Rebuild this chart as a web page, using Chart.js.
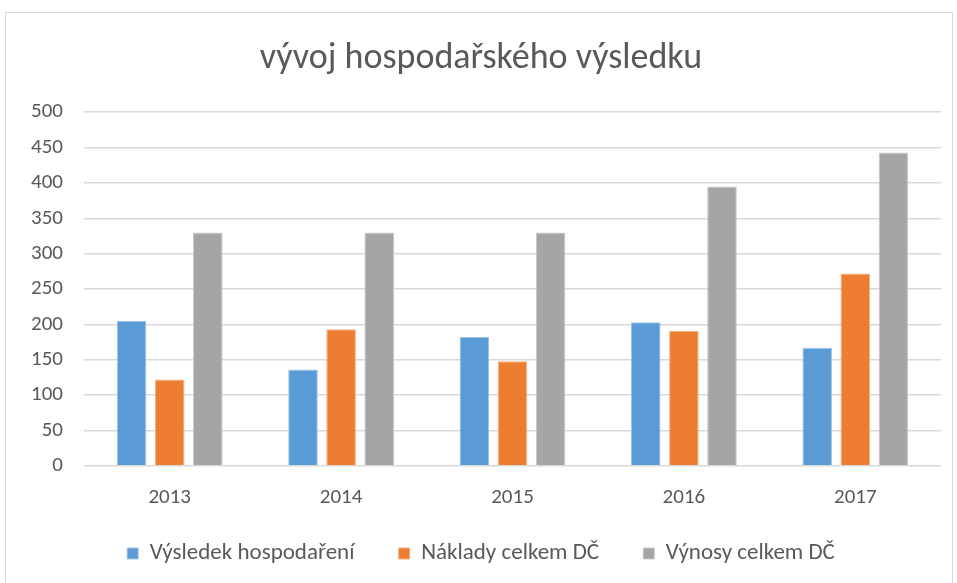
<!DOCTYPE html>
<html>
<head>
<meta charset="utf-8">
<script src="https://cdn.jsdelivr.net/npm/chart.js@4/dist/chart.umd.min.js"></script>
<style>
  html, body { margin: 0; padding: 0; background: #fff; }
  #frame { position: absolute; left: 5px; top: 12px; width: 946px; height: 575px; border: 1px solid #D9D9D9; }
  #myChart { position: absolute; left: 0; top: 0; }
</style>
</head>
<body>
<div id="frame"></div>
<canvas id="myChart" width="957" height="583"></canvas>
<script>
'use strict'

var years = ["2013", "2014", "2015", "2016", "2017"];
var vysledek = [205, 136, 182, 203, 167];
var naklady = [122, 193, 148, 191, 272];
var vynosy = [330, 330, 330, 395, 443];

Chart.defaults.font.family = "Carlito, Lato, 'Liberation Sans', sans-serif";
Chart.defaults.color = "#595959";

var ctx = document.getElementById("myChart");

var barchart = new Chart(ctx, {
  type: 'bar',
  data: {
    labels: years,
    datasets: [{
      label: "Výsledek hospodaření",
      data: vysledek,
      backgroundColor: "#5B9BD5",
      borderColor: "#9DC3E6",
      borderWidth: 1
    },
    {
      label: "Náklady celkem DČ",
      data: naklady,
      backgroundColor: "#ED7D31",
      borderColor: "#F4B183",
      borderWidth: 1
    },
    {
      label: "Výnosy celkem DČ",
      data: vynosy,
      backgroundColor: "#A5A5A5",
      borderColor: "#C9C9C9",
      borderWidth: 1
    }]
  },

  options: {
    responsive: false,
    animation: false,
    categoryPercentage: 0.667,
    barPercentage: 0.776,
    layout: { padding: { left: 21, right: 16, top: 12, bottom: 8 } },
    plugins: {
      title: {
        display: true,
        text: "vývoj hospodařského výsledku",
        color: "#595959",
        font: { size: 36, weight: 'normal' },
        padding: { top: 25, bottom: 32 }
      },
      legend: {
        position: 'bottom',
        labels: {
          boxWidth: 11,
          boxHeight: 11,
          padding: 13,
          font: { size: 23 },
          color: "#595959",
          // extra gap between items, like Excel's legend
          generateLabels: function(chart) {
            var items = Chart.defaults.plugins.legend.labels.generateLabels(chart);
            items.forEach(function(it, i) {
              if (i < items.length - 1) it.text = it.text + "      ";
            });
            return items;
          }
        }
      },
      tooltip: { enabled: false }
    },
    scales: {
      x: {
        grid: { display: false, drawTicks: false },
        border: { display: false },
        ticks: { font: { size: 21 }, padding: 19 }
      },
      y: {
        min: 0,
        max: 500,
        afterFit: function(s) { s.width = 63; },
        grid: { color: "#D9D9D9", lineWidth: 1.5, drawTicks: false },
        border: { display: false },
        ticks: { font: { size: 21 }, padding: 21, stepSize: 50, autoSkip: false }
      }
    }
  }
});
</script>
</body>
</html>
